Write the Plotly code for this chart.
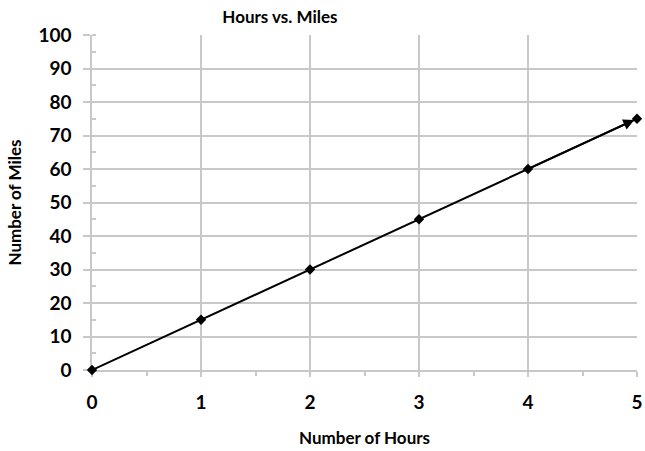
import plotly.graph_objects as go

hours = [0, 1, 2, 3, 4, 5]
miles = [0, 15, 30, 45, 60, 75]
x_ticks = [0, 1, 2, 3, 4, 5]
y_ticks = [0, 10, 20, 30, 40, 50, 60, 70, 80, 90, 100]

FONT = "Lato"
GRID = "#c8c8c8"

fig = go.Figure()
fig.add_trace(go.Scatter(
    x=hours, y=miles, mode="lines+markers",
    line=dict(color="black", width=2),
    marker=dict(symbol="diamond", size=8, color="black"),
    showlegend=False, cliponaxis=False,
))
fig.add_annotation(
    x=hours[-1], y=miles[-1], ax=hours[-2], ay=miles[-2],
    xref="x", yref="y", axref="x", ayref="y",
    showarrow=True, arrowhead=2, arrowsize=1.1, arrowwidth=2, arrowcolor="black",
    standoff=3, text="",
)

fig.update_layout(
    width=645, height=451,
    margin=dict(l=92, r=8, t=35, b=81, autoexpand=False),
    paper_bgcolor="white", plot_bgcolor="white",
    title=dict(text="<b>Hours vs. Miles</b>", x=0.434, xanchor="center", y=0.962, yanchor="middle",
               font=dict(family=FONT, size=17, color="black")),
    font=dict(family=FONT, color="black"),
)
fig.update_xaxes(
    range=[0, 5], tickvals=x_ticks, ticktext=[f"<b>{v}</b>" for v in x_ticks],
    tickfont=dict(size=19, family=FONT, color="black"),
    showgrid=True, gridcolor=GRID, gridwidth=1.5,
    showline=True, linecolor=GRID, linewidth=1.5, layer="below traces",
    ticks="outside", ticklen=5, tickcolor=GRID, tickwidth=1.5,
    ticklabelstandoff=9, automargin=False,
    zeroline=False,
    minor=dict(dtick=0.5, ticks="outside", ticklen=4, tickcolor=GRID, showgrid=False),
    title=dict(text="<b>Number of Hours</b>", font=dict(size=17, family=FONT, color="black"), standoff=21),
)
fig.update_yaxes(
    range=[0, 100], tickvals=y_ticks, ticktext=[f"<b>{v}</b>" for v in y_ticks],
    tickfont=dict(size=19, family=FONT, color="black"),
    showgrid=True, gridcolor=GRID, gridwidth=1.5,
    showline=True, linecolor=GRID, linewidth=1.5, layer="below traces",
    ticks="outside", ticklen=7, tickcolor=GRID, tickwidth=1.5,
    ticklabelstandoff=8, automargin=False,
    zeroline=False,
    minor=dict(dtick=5, ticks="inside", ticklen=4, tickcolor=GRID, showgrid=False),
    title=dict(text="<b>Number of Miles</b>", font=dict(size=17, family=FONT, color="black"), standoff=12),
)
fig.write_html(
    "out.html",
    config={"displayModeBar": False},
    post_script="document.body.style.margin='0';document.body.style.overflow='hidden';",
)
